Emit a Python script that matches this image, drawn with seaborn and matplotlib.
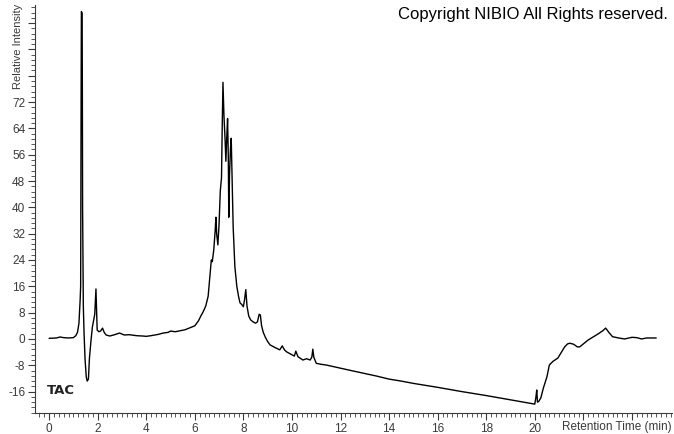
import matplotlib
matplotlib.use("Agg")
import matplotlib.pyplot as plt
import seaborn as sns
import pandas as pd
import numpy as np
from matplotlib.ticker import MultipleLocator, FixedLocator

# Cromatograma TAC
tiempo = [
    0.0, 0.3, 0.45, 0.6, 0.8, 1.0, 1.1, 1.17, 1.23, 1.28, 1.30, 1.31, 1.32, 1.33,
    1.36, 1.37, 1.38, 1.41, 1.44, 1.48, 1.53, 1.57, 1.62, 1.66, 1.72, 1.78, 1.84,
    1.88, 1.91, 1.93, 1.95, 1.98, 2.05, 2.12, 2.2, 2.27, 2.35, 2.5, 2.7, 2.9, 3.1,
    3.3, 3.6, 3.85, 4.0, 4.2, 4.5, 4.7, 4.9, 5.0, 5.2, 5.4, 5.6, 5.8, 6.0, 6.15,
    6.25, 6.34, 6.45, 6.55, 6.62, 6.68, 6.72, 6.78, 6.84, 6.87, 6.9, 6.95, 7.0,
    7.05, 7.1, 7.13, 7.16, 7.2, 7.25, 7.28, 7.32, 7.35, 7.38, 7.4, 7.43, 7.47,
    7.5, 7.54, 7.58, 7.65, 7.73, 7.8, 7.86, 7.93, 8.0, 8.05, 8.1, 8.15, 8.22,
    8.3, 8.4, 8.5, 8.58, 8.65, 8.7, 8.75, 8.82, 8.9, 9.0, 9.1, 9.3, 9.5, 9.6,
    9.7, 9.8, 9.95, 10.1, 10.16, 10.25, 10.45, 10.6, 10.75, 10.82, 10.86, 10.9,
    11.0, 11.2, 11.4, 12.0, 12.5, 13.0, 13.5, 14.0, 14.5, 15.0, 16.0, 17.0, 18.0,
    19.0, 20.0, 20.05, 20.08, 20.11, 20.16, 20.25, 20.35, 20.5, 20.6, 20.75,
    20.95, 21.1, 21.23, 21.35, 21.44, 21.6, 21.75, 21.85, 22.0, 22.2, 22.4, 22.6,
    22.8, 22.92, 23.05, 23.2, 23.45, 23.7, 24.0, 24.2, 24.4, 24.6, 25.0,
]
intensidad = [
    0.2, 0.3, 0.6, 0.4, 0.3, 0.4, 1.0, 2.0, 4.8, 12, 16, 50, 76, 99.5,
    99, 76, 40, 10, 1.8, -6, -11.5, -12.8, -12.2, -6, -1, 3.5, 5.8,
    7.5, 12, 15.2, 10, 2.7, 2.2, 2.4, 3.3, 2.0, 1.2, 0.9, 1.3, 1.8, 1.2,
    1.3, 1.0, 0.9, 0.8, 1.0, 1.4, 1.8, 2.0, 2.4, 2.2, 2.5, 2.8, 3.4, 4.0, 5.5,
    7.0, 8.2, 10, 13, 19, 24, 23.5, 27, 33, 37, 32, 28.6, 35,
    45, 49, 65, 78, 68, 60, 54, 62, 67, 55, 37, 50, 58,
    61, 48, 34, 22, 16, 13, 11, 10.5, 9.8, 12, 15, 10, 7,
    5.8, 5.2, 4.8, 5.2, 7.5, 7.3, 4, 2, 0.6, -0.8, -1.8, -2.6, -3.3, -2.1,
    -3.4, -4.0, -4.6, -5.2, -3.7, -5.4, -6.4, -6.0, -6.4, -5.5, -3.1, -5.5,
    -7.4, -7.7, -7.9, -8.9, -9.7, -10.5, -11.3, -12.2, -12.8, -13.5, -14.7, -16.0, -17.2,
    -18.5, -19.8, -17.5, -15.5, -19.2, -19.0, -17.9, -15, -11.5, -7.9, -6.8,
    -5.8, -4.0, -2.4, -1.5, -1.3, -1.6, -2.4, -2.4, -1.5, -0.3, 0.6, 1.5,
    2.5, 3.3, 2.0, 0.7, 0.3, 0.0, 0.5, 0.4, 0.0, 0.3, 0.3,
]
xticks = list(range(0, 25, 2))
xlabels = [str(v) if v <= 20 else "" for v in xticks]
yticks = list(range(-16, 97, 8))
ylabels = [str(v) if v <= 72 else "" for v in yticks]

df = pd.DataFrame({"t": tiempo, "y": intensidad})

sns.set_style("ticks")
plt.rcParams["font.family"] = ["Liberation Sans", "DejaVu Sans"]
gris = "#3a3a3a"

fig = plt.figure(figsize=(6.74, 4.34), dpi=100)
ax = fig.add_axes([35 / 674, 21 / 434, 637 / 674, 408 / 434])

sns.lineplot(data=df, x="t", y="y", ax=ax, color="black", linewidth=1.0,
             estimator=None, sort=False)

ax.set_xlim(-0.58, 25.65)
ax.set_ylim(-22.5, 101.5)

ax.xaxis.set_major_locator(FixedLocator(xticks))
ax.set_xticklabels(xlabels)
ax.xaxis.set_minor_locator(MultipleLocator(0.2))
ax.yaxis.set_major_locator(FixedLocator(yticks))
ax.set_yticklabels(ylabels)
ax.yaxis.set_minor_locator(MultipleLocator(1.6))

ax.tick_params(axis="both", which="major", length=5, width=0.8, color=gris,
               labelcolor=gris, labelsize=8.5, pad=2)
ax.tick_params(axis="both", which="minor", length=3, width=0.6, color=gris)

for s in ["top", "right"]:
    ax.spines[s].set_visible(False)
for s in ["left", "bottom"]:
    ax.spines[s].set_color(gris)
    ax.spines[s].set_linewidth(0.8)

ax.set_xlabel("")
ax.set_ylabel("")
ax.set_facecolor("white")

fig.text(18 / 674, 1 - 46 / 434, "Relative Intensity", rotation=90,
         ha="center", va="center", fontsize=8, color=gris)
fig.text(672 / 674, 1 - 427 / 434, "Retention Time (min)", ha="right",
         va="center", fontsize=8.5, color=gris)
fig.text(668 / 674, 1 - 15 / 434, "Copyright NIBIO All Rights reserved.",
         ha="right", va="center", fontsize=12, color="black")
fig.text(47 / 674, 1 - 391 / 434, "TAC", ha="left", va="center",
         fontsize=9.5, fontweight="bold", color="#222222",
         family="DejaVu Sans")

fig.savefig("out.png", dpi=100)
